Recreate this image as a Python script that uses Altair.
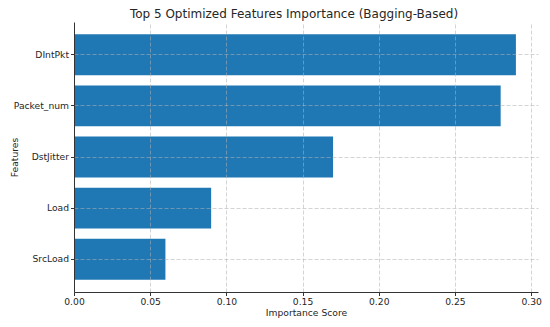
import altair as alt
import pandas as pd

features = ["DIntPkt", "Packet_num", "DstJitter", "Load", "SrcLoad"]
importance = [0.290, 0.280, 0.170, 0.090, 0.060]
x_ticks = [0, 0.05, 0.1, 0.15, 0.2, 0.25, 0.3]

df = pd.DataFrame({"Feature": features, "Importance": importance})

FONT = "DejaVu Sans"
TXT = "#262626"
PLOT_W = 464
PLOT_H = 270

common = dict(grid=True, gridDash=[4, 2], gridColor="#b0b0b0", gridOpacity=0.55,
              domainColor="#333333", tickColor="#333333", tickSize=3.5,
              labelFontSize=9.2, titleFontSize=9.2, labelPadding=2,
              labelColor=TXT, titleColor=TXT, labelFont=FONT, titleFont=FONT,
              titleFontWeight="normal", zindex=1)

chart = alt.Chart(df).mark_bar(color="#1f77b4").encode(
    x=alt.X("Importance:Q",
            title="Importance Score",
            scale=alt.Scale(domain=[0, 0.3045], nice=False, zero=True),
            axis=alt.Axis(values=x_ticks, format=".2f", labelFlush=False,
                          titlePadding=2, **common)),
    y=alt.Y("Feature:N", sort=None, title="Features",
            scale=alt.Scale(paddingInner=0.2, paddingOuter=0.24),
            axis=alt.Axis(titleX=-60, titleY=PLOT_H / 2, titleAngle=270,
                          titleAlign="center", titleBaseline="middle", **common)),
).properties(
    width=PLOT_W,
    height=PLOT_H,
    title=alt.TitleParams("Top 5 Optimized Features Importance (Bagging-Based)",
                          fontSize=12, font=FONT, fontWeight="normal", color=TXT,
                          anchor="middle", offset=1, dx=-12),
    autosize=alt.AutoSizeParams(type="none"),
    padding={"left": 66, "top": 14, "right": 4, "bottom": 27},
).configure_view(stroke=None)

chart.save("out.html", embed_options={"renderer": "svg", "actions": False})
